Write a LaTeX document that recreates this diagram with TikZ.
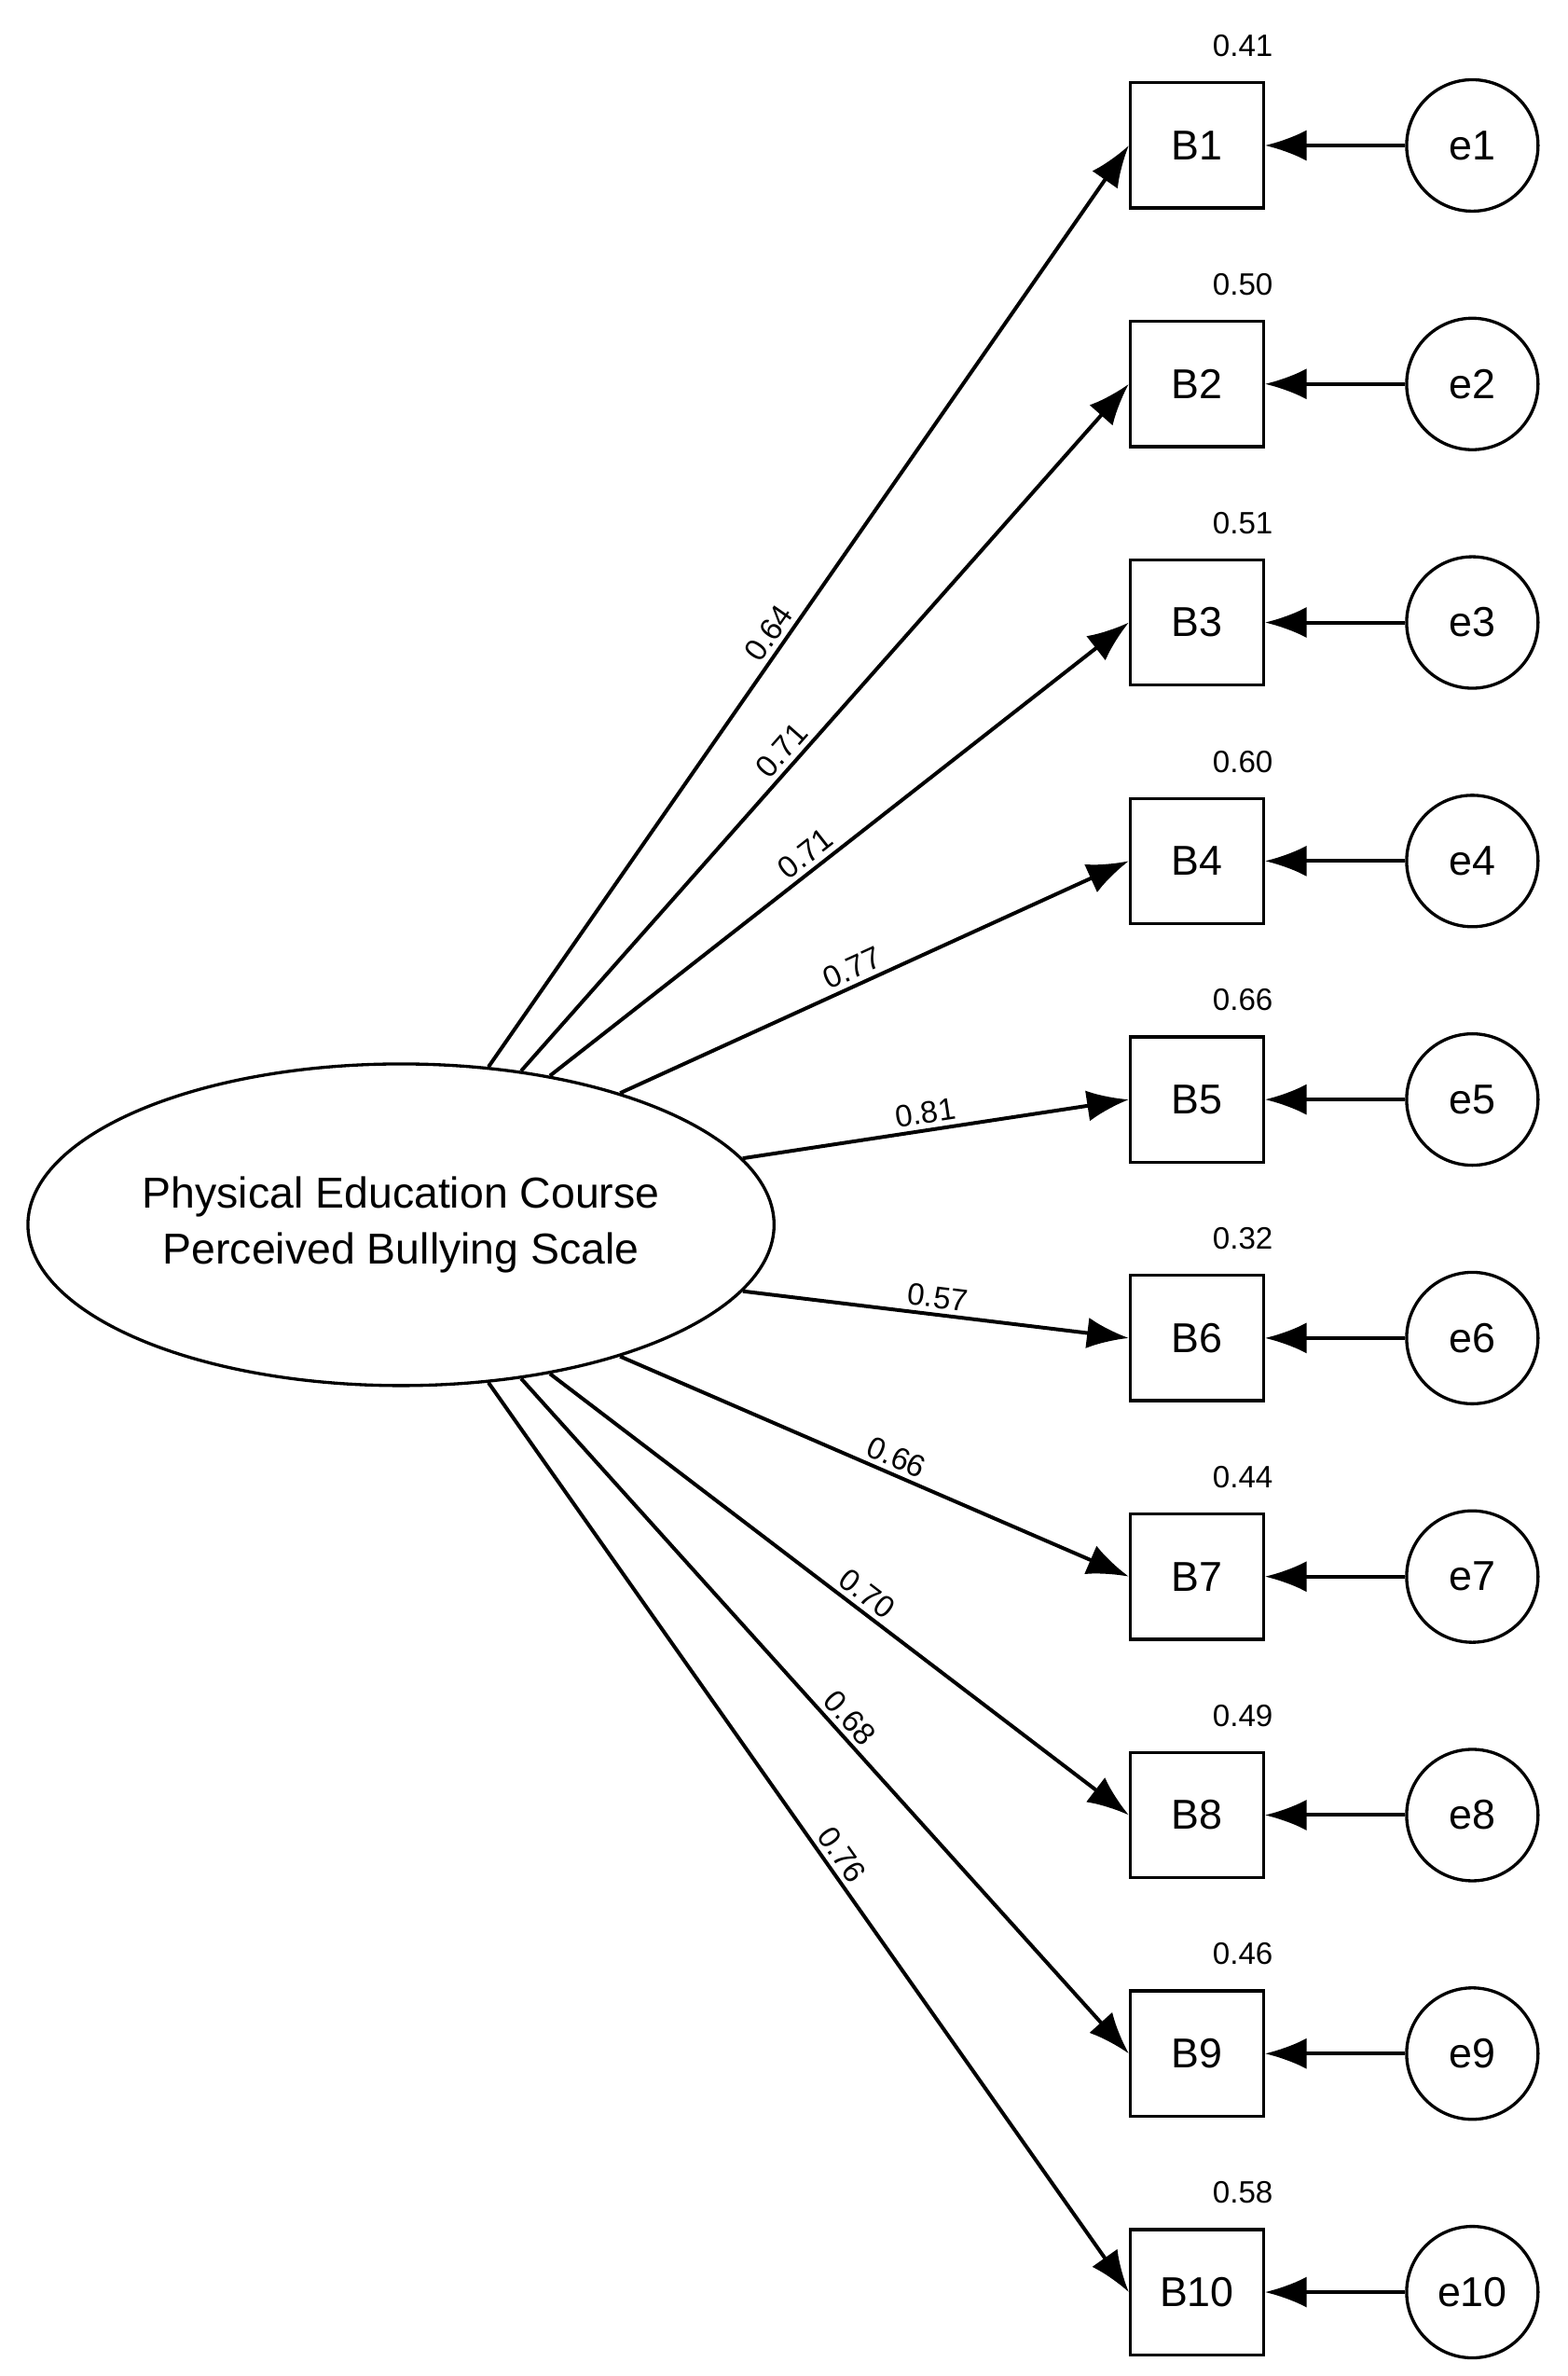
\documentclass[tikz,border=0pt]{standalone}
\usepackage{fontspec}
\setmainfont{Liberation Sans}
\usetikzlibrary{shapes.geometric,arrows.meta}
\begin{document}
\begin{tikzpicture}[x=0.99pt,y=-0.99pt,
  obs/.style={draw,line width=2pt,minimum width=86pt,minimum height=81pt,inner sep=0pt,font=\fontsize{27}{30}\selectfont},
  err/.style={draw,circle,line width=2pt,minimum size=85pt,inner sep=0pt,font=\fontsize{27}{30}\selectfont},
  val/.style={font=\fontsize{20}{22}\selectfont},
  arr/.style={line width=2.4pt,-{Latex[length=27pt,width=20pt]}},
  lab/.style={font=\fontsize{20}{22}\selectfont,sloped,above,inner sep=3pt}]
\useasboundingbox (0,0) rectangle (1024,1552);
\node[draw,ellipse,line width=2pt,minimum width=470pt,minimum height=208pt,align=center,
  font=\fontsize{28}{36}\selectfont] (F) at (262,800) {Physical Education Course\\Perceived Bullying Scale};
\foreach \i/\r in {1/0.41,2/0.50,3/0.51,4/0.60,5/0.66,6/0.32,7/0.44,8/0.49,9/0.46,10/0.58}{
  \node[obs] (B\i) at (782,{95+155.8*(\i-1)}) {B\i};
  \node[err] (e\i) at (962,{95+155.8*(\i-1)}) {e\i};
  \node[val] (r\i) at (812,{30+155.8*(\i-1)}) {\r};
  \draw[arr] (e\i) -- (B\i);
}
\draw[arr] (F.61.5) -- node[lab,pos=0.46]{0.64} (B1.west);
\draw[arr] (F.52.8) -- node[lab,pos=0.45]{0.71} (B2.west);
\draw[arr] (F.45.3) -- node[lab,pos=0.46]{0.71} (B3.west);
\draw[arr] (F.31.7) -- node[lab,pos=0.47]{0.77} (B4.west);
\draw[arr] (F.11.4) -- node[lab,pos=0.48]{0.81} (B5.west);
\draw[arr] (F.-11.4) -- node[lab,pos=0.5]{0.57} (B6.west);
\draw[arr] (F.-31.7) -- node[lab,pos=0.53]{0.66} (B7.west);
\draw[arr] (F.-45.3) -- node[lab,pos=0.53]{0.70} (B8.west);
\draw[arr] (F.-52.8) -- node[lab,pos=0.52]{0.68} (B9.west);
\draw[arr] (F.-61.5) -- node[lab,pos=0.53]{0.76} (B10.west);
\end{tikzpicture}
\end{document}
